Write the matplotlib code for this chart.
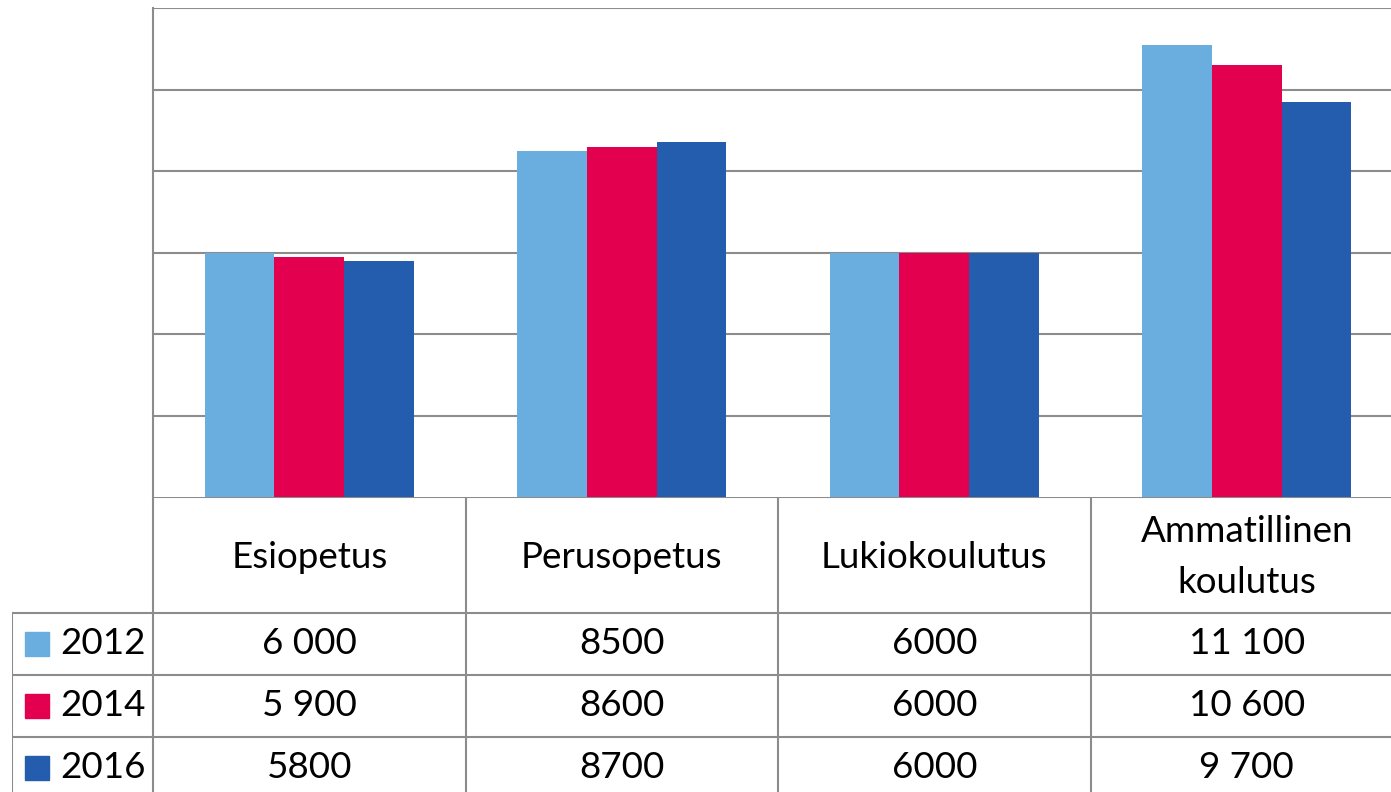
import matplotlib
matplotlib.use("Agg")
import matplotlib.pyplot as plt
import numpy as np

plt.rcParams['font.family'] = ['Lato', 'DejaVu Sans']

categories = ["Esiopetus", "Perusopetus", "Lukiokoulutus", "Ammatillinen\nkoulutus"]
years = ["2012", "2014", "2016"]
values_2012 = [6000, 8500, 6000, 11100]
values_2014 = [5900, 8600, 6000, 10600]
values_2016 = [5800, 8700, 6000, 9700]
labels_2012 = ["6 000", "8500", "6000", "11 100"]
labels_2014 = ["5 900", "8600", "6000", "10 600"]
labels_2016 = ["5800", "8700", "6000", "9 700"]

colors = ["#6AAEDF", "#E2004F", "#245DAD"]
grid_col = "#8C8C8C"

W, H = 1391, 792
fig = plt.figure(figsize=(W / 100, H / 100), dpi=100)

# chart area (right side runs slightly past the figure edge, as in the reference)
px_left, px_right, px_top, px_bot = 153, 1403, 8, 497
ax = fig.add_axes([px_left / W, (H - px_bot) / H, (px_right - px_left) / W, (px_bot - px_top) / H])
x = np.arange(len(categories))
bw = 0.2233
series = [values_2012, values_2014, values_2016]
for i, vals in enumerate(series):
    ax.bar(x + (i - 1) * bw, vals, bw, color=colors[i], zorder=3)
ax.set_xlim(-0.5, 3.5)
ax.set_ylim(0, 12000)
ax.set_yticks(np.arange(2000, 12001, 2000))
ax.yaxis.grid(True, color=grid_col, lw=1.5)
ax.set_axisbelow(True)
ax.tick_params(left=False, bottom=False, labelleft=False, labelbottom=False)
for s in ["top", "right", "bottom"]:
    ax.spines[s].set_visible(False)
ax.spines["left"].set_color(grid_col)
ax.spines["left"].set_linewidth(1.5)

# data table below the chart
t_left, t_bot = 12, 799
unit = (px_right - px_left) / 4.0
tx0 = -0.5 - (px_left - t_left) / unit
tax = fig.add_axes([t_left / W, (H - t_bot) / H, (px_right - t_left) / W, (t_bot - px_bot) / H])
tax.set_xlim(tx0, 3.5)
tax.set_ylim(t_bot - px_bot, 0)
tax.axis("off")

lkw = dict(color=grid_col, lw=1.5, solid_capstyle="butt")
row_edges = [0, 116, 178, 240, 302]
tax.plot([-0.5, 3.5], [0, 0], **lkw)
for r in row_edges[1:4]:
    tax.plot([tx0, 3.5], [r, r], **lkw)
tax.plot([tx0, tx0], [116, 302], **lkw)
for c in [-0.5, 0.5, 1.5, 2.5]:
    tax.plot([c, c], [0, 302], **lkw)

fs = 26.5
for j, cat in enumerate(categories):
    tax.text(j, 60, cat, ha="center", va="center", fontsize=fs, linespacing=1.65)

row_labels = [labels_2012, labels_2014, labels_2016]
sq = 24 / unit
for i, yr in enumerate(years):
    yc = (row_edges[i + 1] + row_edges[i + 2]) / 2
    tax.add_patch(plt.Rectangle((tx0 + 13 / unit, yc - 12), sq, 24, color=colors[i]))
    tax.text(tx0 + 48 / unit, yc, yr, ha="left", va="center", fontsize=fs)
    for j, lab in enumerate(row_labels[i]):
        tax.text(j, yc, lab, ha="center", va="center", fontsize=fs)

fig.savefig("out.png", dpi=100)
